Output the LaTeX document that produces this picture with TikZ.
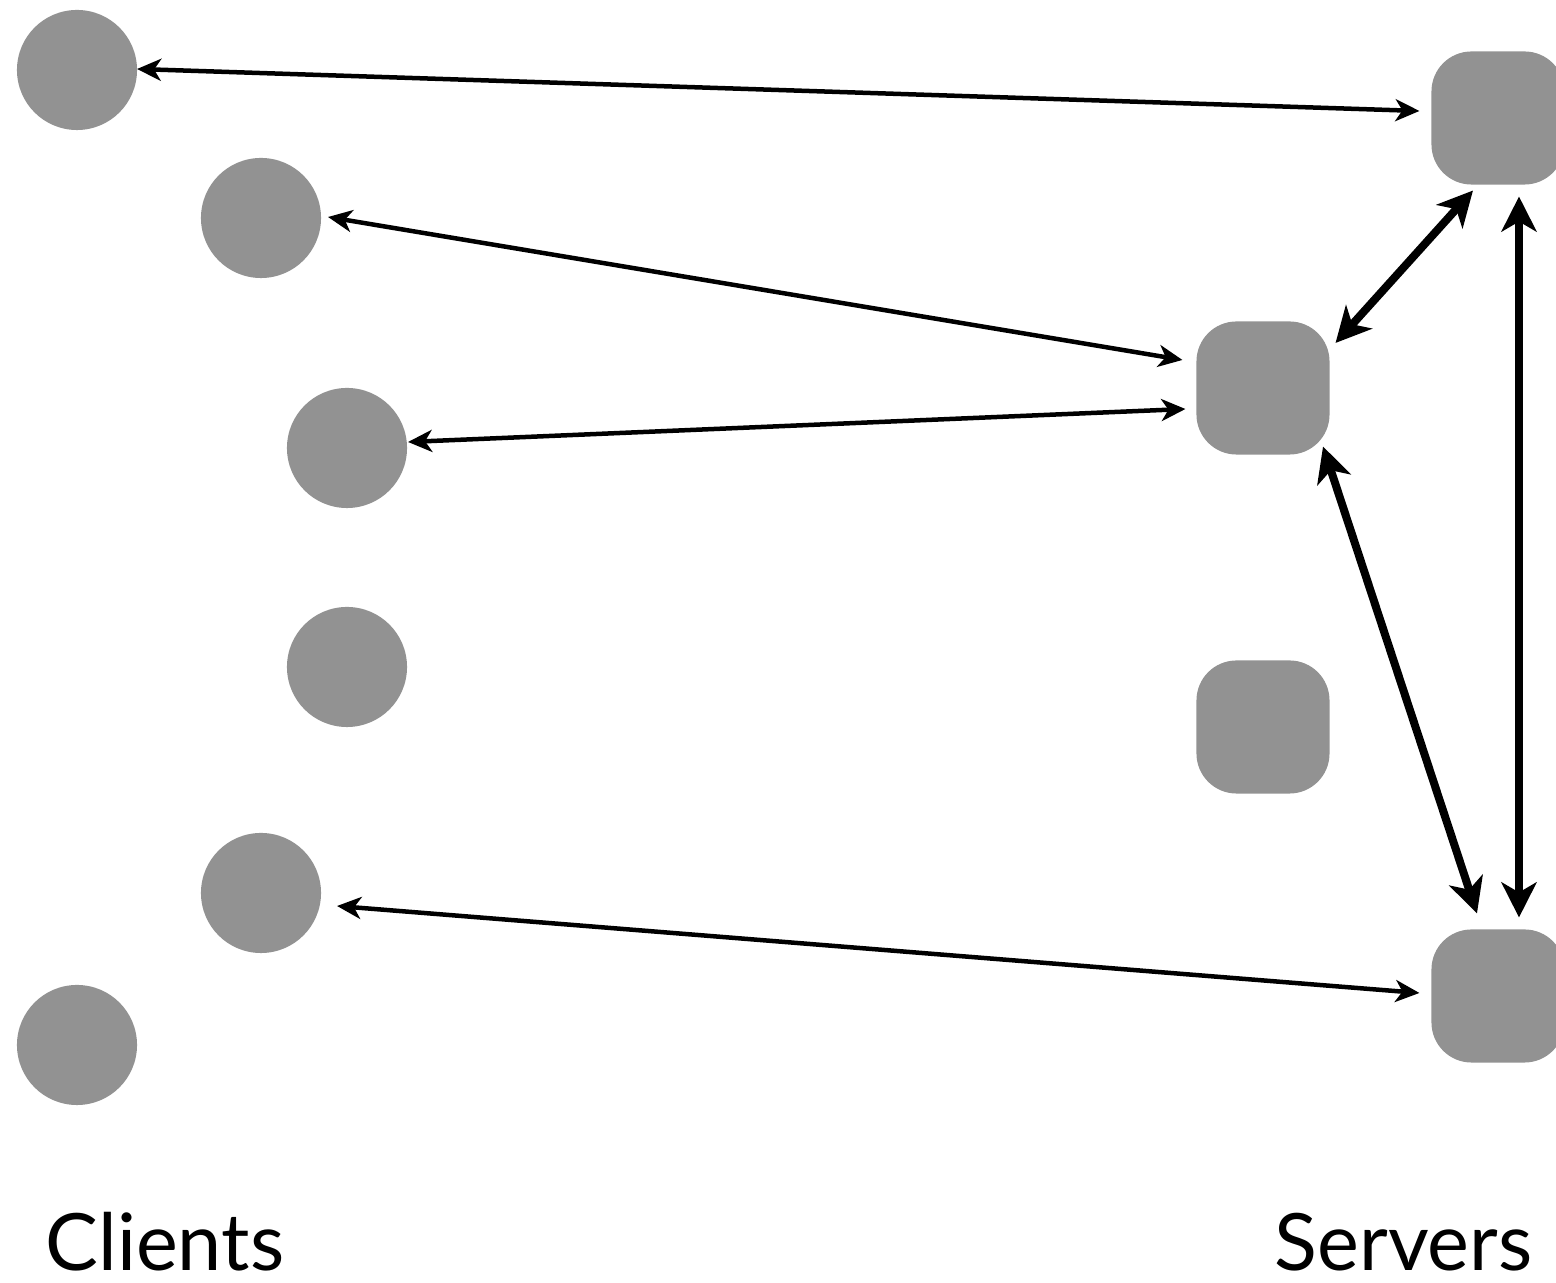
\documentclass[tikz,border=0pt]{standalone}
\usepackage{fontspec}
\setmainfont{Lato}
\usetikzlibrary{arrows.meta}
\definecolor{nodegray}{HTML}{929292}
\begin{document}
\begin{tikzpicture}[x=0.01cm,y=-0.01cm,
  client/.style={circle,fill=nodegray,minimum size=1.2cm,inner sep=0pt,outer sep=0pt},
  server/.style={rectangle,rounded corners=0.4cm,fill=nodegray,minimum size=1.33cm,inner sep=0pt,outer sep=0pt},
  thinlink/.style={line width=0.045cm,{Stealth[length=0.24cm,width=0.22cm,inset=0.07cm]}-{Stealth[length=0.24cm,width=0.22cm,inset=0.07cm]}},
  thicklink/.style={line width=0.08cm,{Stealth[length=0.35cm,width=0.35cm,inset=0.1cm]}-{Stealth[length=0.35cm,width=0.35cm,inset=0.1cm]}},
  label/.style={font=\fontsize{22.5}{26}\selectfont,inner sep=0pt}]
\useasboundingbox (0,0) rectangle (1556,1283);
\node[client] (c1) at (77,70) {};
\node[client] (c2) at (261,218) {};
\node[client] (c3) at (347,448) {};
\node[client] (c4) at (347,667) {};
\node[client] (c5) at (261,893) {};
\node[client] (c6) at (77,1045) {};
\node[server] (s1) at (1498,118) {};
\node[server] (s2) at (1263,388) {};
\node[server] (s3) at (1263,727) {};
\node[server] (s4) at (1498,996) {};
\node[label,anchor=base west] (clients) at (45,1271) {Clients};
\node[label,anchor=base east] (servers) at (1533,1271) {Servers};
\draw[thinlink] ([yshift=0.01cm]c1.east) -- ([xshift=-0.12cm,yshift=0.07cm]s1.west);
\draw[thinlink] ([xshift=0.07cm,yshift=0.01cm]c2.east) -- ([xshift=-0.14cm,yshift=0.28cm]s2.west);
\draw[thinlink] ([xshift=0.01cm,yshift=0.06cm]c3.east) -- ([xshift=-0.11cm,yshift=-0.21cm]s2.west);
\draw[thinlink] ([xshift=0.16cm,yshift=-0.13cm]c5.east) -- ([xshift=-0.12cm,yshift=0.03cm]s4.west);
\draw[thicklink] ([xshift=0.06cm,yshift=0.45cm]s2.east) -- ([xshift=-0.25cm,yshift=-0.06cm]s1.south);
\draw[thicklink] ([xshift=0.6cm,yshift=0.08cm]s2.south) -- ([xshift=-0.21cm,yshift=0.16cm]s4.north);
\draw[thicklink] ([xshift=0.21cm,yshift=-0.12cm]s1.south) -- ([xshift=0.21cm,yshift=0.12cm]s4.north);
\end{tikzpicture}
\end{document}
